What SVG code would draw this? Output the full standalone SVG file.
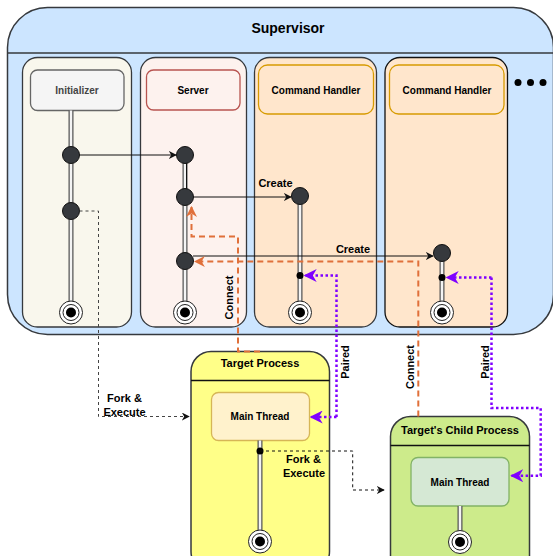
<svg xmlns="http://www.w3.org/2000/svg" width="553" height="556" viewBox="0 0 553 556">
<defs>
<style>
text{font-family:"Liberation Sans",Arial,sans-serif;font-weight:bold;fill:#000}
.lane{stroke:#36393d;stroke-width:1.3}
.life-o{stroke:#555;stroke-width:5;fill:none}
.life-i{stroke:#f4f4f4;stroke-width:2.5;fill:none}
.dot{fill:#36393d;stroke:#111;stroke-width:1}
.blk{stroke:#111;stroke-width:1;fill:none}
.org{stroke:#e0703a;stroke-width:2;stroke-dasharray:6 4;fill:none}
.pur{stroke:#7f00ff;stroke-width:2.5;stroke-dasharray:2.5 2.5;fill:none}
.gdash{stroke:#444;stroke-width:1;stroke-dasharray:3 3;fill:none}
</style>
<marker id="ab" viewBox="0 0 10 10" refX="9" refY="5" markerWidth="8" markerHeight="8" markerUnits="userSpaceOnUse" orient="auto"><path d="M0,0 L10,5 L0,10 L3,5 z" fill="#111"/></marker>
<marker id="ao" viewBox="0 0 10 10" refX="9" refY="5" markerWidth="11" markerHeight="11" markerUnits="userSpaceOnUse" orient="auto"><path d="M0,0 L10,5 L0,10 L3,5 z" fill="#e0703a"/></marker>
<marker id="ap" viewBox="0 0 10 10" refX="9" refY="5" markerWidth="13" markerHeight="13" markerUnits="userSpaceOnUse" orient="auto"><path d="M0,0 L10,5 L0,10 L3,5 z" fill="#7f00ff"/></marker>
<g id="final">
<circle r="11.5" fill="#fff" stroke="#222" stroke-width="1"/>
<circle r="8" fill="#fff" stroke="#222" stroke-width="1"/>
<circle r="5" fill="#000"/>
</g>
</defs>

<g id="supervisor">
<rect x="7.5" y="7.5" width="546" height="327" rx="40" fill="#cce5ff" stroke="#36393d" stroke-width="1.5"/>
<line x1="7.5" y1="53" x2="553.5" y2="53" stroke="#36393d" stroke-width="1.5"/>
<text x="288" y="33" font-size="14" text-anchor="middle">Supervisor</text>
<circle cx="518" cy="82.5" r="3.5" fill="#000"/>
<circle cx="530.5" cy="82.5" r="3.5" fill="#000"/>
<circle cx="543" cy="82.5" r="3.5" fill="#000"/>
</g>

<g id="initializer">
<rect class="lane" x="22.5" y="57.5" width="109" height="269.5" rx="15" fill="#f9f7ed"/>
<rect x="30.5" y="70" width="93.5" height="40.5" rx="7" fill="#f5f5f5" stroke="#666" stroke-width="1.3"/>
<text x="77" y="94" font-size="10" text-anchor="middle" style="fill:#444">Initializer</text>
<line class="life-o" x1="71" y1="110.5" x2="71" y2="302"/>
<line class="life-i" x1="71" y1="110.5" x2="71" y2="302"/>
<circle class="dot" cx="71" cy="155" r="8.5"/>
<circle class="dot" cx="71" cy="211" r="8.5"/>
<use href="#final" x="71" y="312.5"/>
</g>

<g id="server">
<rect class="lane" x="140.5" y="57.5" width="106" height="269.5" rx="15" fill="#fdf2ee"/>
<rect x="146.5" y="70" width="93.5" height="40" rx="7" fill="#fdf2ee" stroke="#b85450" stroke-width="1.3"/>
<text x="193" y="94" font-size="10" text-anchor="middle">Server</text>
<line class="life-o" x1="185" y1="155" x2="185" y2="302"/>
<line class="life-i" x1="185" y1="155" x2="185" y2="302"/>
<line class="blk" x1="186.5" y1="160" x2="186.5" y2="190"/>
<circle class="dot" cx="185" cy="155" r="8.5"/>
<circle class="dot" cx="185" cy="197" r="8.5"/>
<circle class="dot" cx="185" cy="261" r="8.5"/>
<use href="#final" x="185" y="312.5"/>
</g>

<g id="command-handler-1">
<rect class="lane" x="254.5" y="57.5" width="122" height="269.5" rx="15" fill="#ffe6cc"/>
<rect x="258.5" y="65" width="115" height="49" rx="9" fill="#ffe6cc" stroke="#d79b00" stroke-width="1.3"/>
<text x="316" y="94" font-size="10" text-anchor="middle">Command Handler</text>
<line class="life-o" x1="300" y1="196" x2="300" y2="302"/>
<line class="life-i" x1="300" y1="196" x2="300" y2="302"/>
<circle class="dot" cx="300" cy="196" r="8.5"/>
<circle cx="300" cy="275.5" r="3.5" fill="#000"/>
<use href="#final" x="300" y="312.5"/>
</g>

<g id="command-handler-2">
<rect x="385" y="57.5" width="122.5" height="269.5" rx="15" fill="#ffe6cc" stroke="#111" stroke-width="1.3"/>
<rect x="389.5" y="65" width="114.5" height="49" rx="9" fill="#ffe6cc" stroke="#d79b00" stroke-width="1.3"/>
<text x="447" y="94" font-size="10" text-anchor="middle">Command Handler</text>
<line class="life-o" x1="442" y1="253" x2="442" y2="302"/>
<line class="life-i" x1="442" y1="253" x2="442" y2="302"/>
<circle class="dot" cx="442" cy="253" r="8.5"/>
<circle cx="442" cy="277.5" r="3.5" fill="#000"/>
<use href="#final" x="442" y="312.5"/>
</g>

<g id="target-process">
<rect x="191" y="351.5" width="138.5" height="220" rx="20" fill="#ffff88" stroke="#36393d" stroke-width="1.5"/>
<line x1="191" y1="380.5" x2="329.5" y2="380.5" stroke="#111" stroke-width="1.5"/>
<text x="260" y="367" font-size="11" text-anchor="middle">Target Process</text>
<rect x="211.5" y="392.5" width="98" height="48" rx="7" fill="#fff2cc" stroke="#d6b656" stroke-width="1.3"/>
<text x="260" y="420" font-size="10" text-anchor="middle">Main Thread</text>
<line class="life-o" x1="260" y1="440.5" x2="260" y2="532"/>
<line class="life-i" x1="260" y1="440.5" x2="260" y2="532"/>
<circle cx="260" cy="451" r="3.5" fill="#000"/>
<use href="#final" x="260" y="541.5"/>
</g>

<g id="child-process">
<rect x="390.5" y="416.5" width="139" height="160" rx="20" fill="#cdeb8b" stroke="#36393d" stroke-width="1.5"/>
<line x1="390.5" y1="445.5" x2="529.5" y2="445.5" stroke="#111" stroke-width="1.5"/>
<text x="460" y="434" font-size="11" text-anchor="middle">Target's Child Process</text>
<rect x="411" y="457.5" width="98" height="48.5" rx="7" fill="#d5e8d4" stroke="#82b366" stroke-width="1.3"/>
<text x="460" y="485.5" font-size="10" text-anchor="middle">Main Thread</text>
<line class="life-o" x1="460" y1="506" x2="460" y2="532"/>
<line class="life-i" x1="460" y1="506" x2="460" y2="532"/>
<use href="#final" x="460" y="542"/>
</g>

<g id="connectors">
<path class="blk" d="M79.5,155 L176,155" marker-end="url(#ab)"/>
<path class="blk" d="M193.5,197 L291,197" marker-end="url(#ab)"/>
<text x="275.5" y="187" font-size="11" text-anchor="middle">Create</text>
<path class="blk" d="M193,256 L433,256" marker-end="url(#ab)"/>
<text x="353" y="253" font-size="11" text-anchor="middle">Create</text>

<path class="org" d="M260,351.5 L238,351.5 L238,236.5 L191.5,236.5 L191.5,207" marker-end="url(#ao)"/>
<text transform="translate(233,297.5) rotate(-90)" font-size="11" text-anchor="middle">Connect</text>
<path class="org" d="M418.3,416.5 L418.3,261.5 L195,261.5" marker-end="url(#ao)"/>
<text transform="translate(414,367) rotate(-90)" font-size="11" text-anchor="middle">Connect</text>

<path class="pur" d="M336.5,417 L336.5,275.5 L305,275.5" marker-end="url(#ap)"/>
<path class="pur" d="M336.5,417 L311,417" marker-end="url(#ap)"/>
<text transform="translate(349,362) rotate(-90)" font-size="11" text-anchor="middle">Paired</text>
<path class="pur" d="M491.5,277.5 L447,277.5" marker-end="url(#ap)"/>
<path class="pur" d="M491.5,277.5 L491.5,408 L540.7,408 L540.7,475.7 L511.5,475.7" marker-end="url(#ap)"/>
<text transform="translate(488.5,362) rotate(-90)" font-size="11" text-anchor="middle">Paired</text>

<path class="gdash" d="M79.5,211 L98.5,211 L98.5,416.5 L189,416.5" marker-end="url(#ab)"/>
<text x="124.5" y="402" font-size="11" text-anchor="middle">Fork &amp;</text>
<text x="124.5" y="415.5" font-size="11" text-anchor="middle">Execute</text>

<path class="blk" stroke-dasharray="3 3" d="M260,451 L352.7,451 L352.7,490 L384,490" marker-end="url(#ab)"/>
<text x="303.5" y="463" font-size="11" text-anchor="middle">Fork &amp;</text>
<text x="304" y="476.5" font-size="11" text-anchor="middle">Execute</text>
</g>
</svg>
